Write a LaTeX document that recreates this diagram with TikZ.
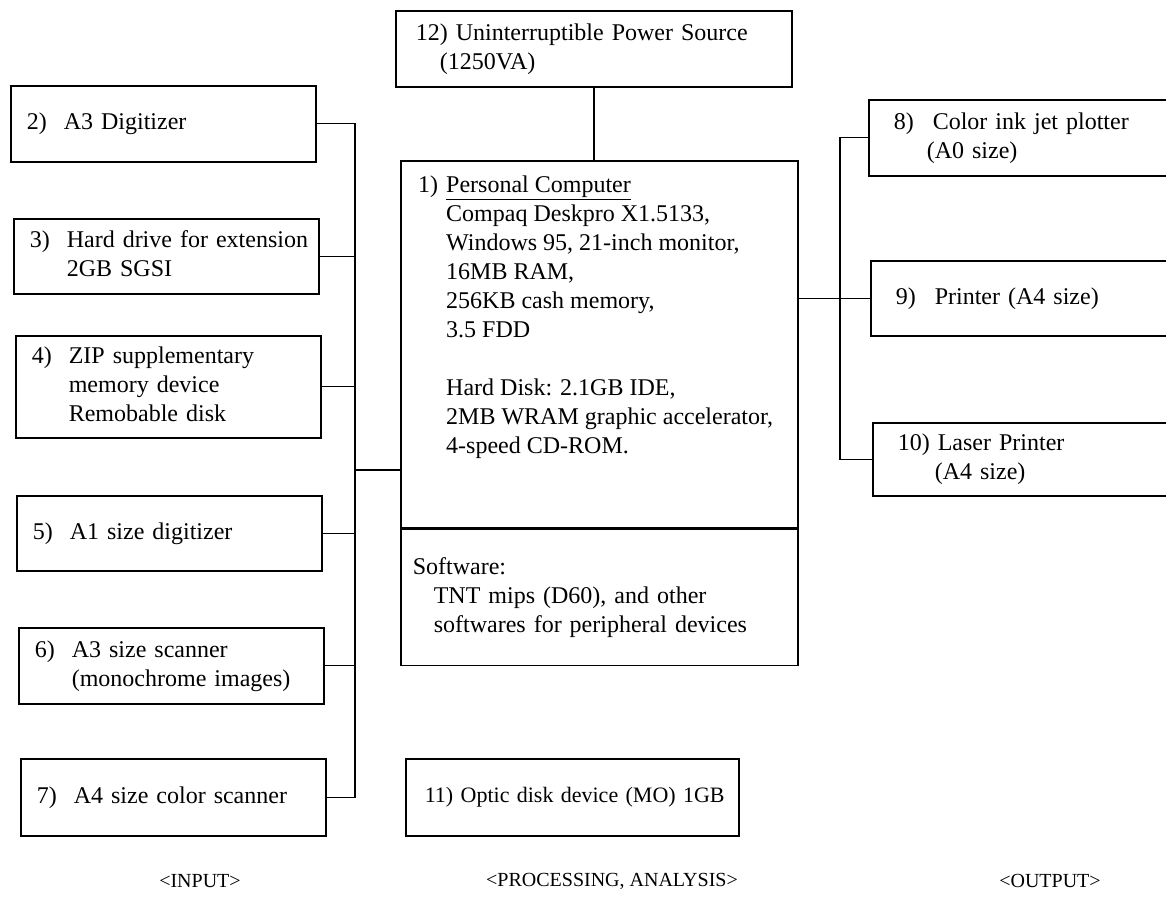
\documentclass[tikz,border=0pt]{standalone}
\usepackage{fontspec}
\setmainfont{Liberation Serif}
\usetikzlibrary{positioning}

% number column + text lines
\newcommand{\dev}[3][37pt]{\makebox[#1][l]{#2}\begin{tabular}[t]{@{}l@{}}#3\end{tabular}}

\begin{document}
\begin{tikzpicture}[x=1pt, y=-1pt,
  every node/.style={font=\fontsize{24}{29}\selectfont},
  box/.style={rectangle, draw, line width=1.6pt, anchor=north west, align=left, inner ysep=0pt},
  inbox/.style={box, text width=273pt, inner xsep=16pt, minimum height=#1},
  inbox/.default=76pt,
  outbox/.style={box, text width=300pt, inner xsep=25pt, minimum height=#1},
  outbox/.default=76pt,
  wire/.style={line width=1.2pt},
  bus/.style={line width=2pt, line cap=rect},
  title/.style={font=\fontsize{20}{24}\selectfont}]
  \useasboundingbox (0,0) rectangle (1166,914);
  \clip (0,0) rectangle (1166,914);

  % input side
  \node[inbox] (in2) at (10,85) {\dev{2)}{A3 Digitizer}};
  \node[inbox=75pt] (in3) at (13,218) {\dev{3)}{Hard drive for extension\\2GB SGSI}};
  \node[inbox=102pt] (in4) at (15,335) {\dev{4)}{ZIP supplementary\\memory device\\Remobable disk}};
  \node[inbox=75pt] (in5) at (16,495) {\dev{5)}{A1 size digitizer}};
  \node[inbox] (in6) at (18,627) {\dev{6)}{A3 size scanner\\(monochrome images)}};
  \node[inbox=77pt] (in7) at (20,758) {\dev{7)}{A4 size color scanner}};

  % processing
  \node[box, text width=356pt, inner xsep=20pt, minimum height=76pt] (ups) at (395,10)
    {12) Uninterruptible Power Source\\\hspace*{24pt}(1250VA)};
  \node[box, minimum width=397pt, minimum height=367pt, inner sep=0pt] (pc) at (400,160) {};
  \node[anchor=north west, align=left, inner xsep=18pt, inner ysep=12pt] (pcinfo) at (pc.north west)
    {\dev[28pt]{1)}{\underline{Personal Computer}\\Compaq Deskpro X1.5133,\\Windows 95, 21-inch monitor,\\16MB RAM,\\256KB cash memory,\\3.5 FDD\\ \\Hard Disk: 2.1GB IDE,\\2MB WRAM graphic accelerator,\\4-speed CD-ROM.}};
  \node[box, anchor=north, text width=373pt, inner xsep=12pt, minimum height=136pt] (sw) at (pc.south)
    {Software:\\\hspace*{21pt}TNT mips (D60), and other\\\hspace*{21pt}softwares for peripheral devices};
  \node[box, text width=313pt, inner xsep=10pt, minimum height=77pt, font=\fontsize{22}{29}\selectfont] (mo) at (405,758)
    {\mbox{\hspace*{9pt}11) Optic disk device (MO) 1GB}};

  % output side
  \node[outbox] (out8) at (868,99) {\makebox[39pt][l]{8)}Color ink jet plotter\\\hspace*{33pt}(A0 size)};
  \node[outbox=75pt] (out9) at (870,260) {\makebox[39pt][l]{9)}Printer (A4 size)};
  \node[outbox=73pt] (out10) at (872,422) {10) Laser Printer\\\hspace*{37pt}(A4 size)};

  \node[title] (tin) at (200,881) {<INPUT>};
  \node[title] (tproc) at (612,881) {<PROCESSING, ANALYSIS>};
  \node[title] (tout) at (1050,881) {<OUTPUT>};

  % connectors
  \coordinate (lbus) at (355,0);
  \coordinate (rbus) at (840,0);
  \coordinate (ljoin) at (355,470);
  \draw[bus] (lbus |- in2.east) -- (lbus |- in7.east);
  \foreach \i in {2,...,7}
    \draw[wire] (in\i.east) -- (lbus |- in\i.east);
  \draw[wire] (ljoin) -- (ljoin -| pc.west);
  \draw[bus] (ups.south) -- (ups.south |- pc.north);
  \draw[bus] (rbus |- out8.west) -- (rbus |- out10.west);
  \foreach \i in {8,10}
    \draw[wire] (rbus |- out\i.west) -- (out\i.west);
  \draw[wire] (pc.east |- out9.west) -- (out9.west);
\end{tikzpicture}
\end{document}
